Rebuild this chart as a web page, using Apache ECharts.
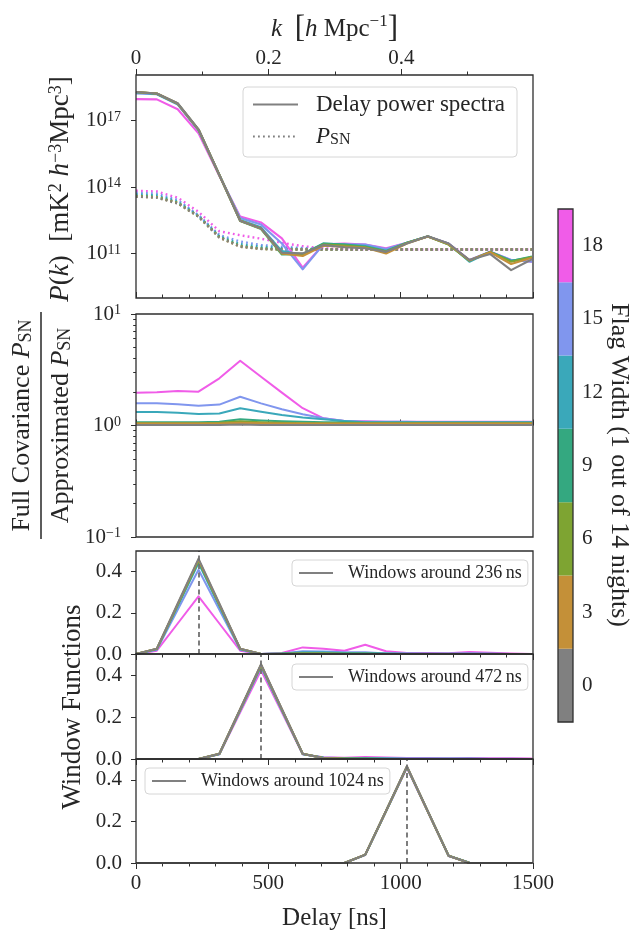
<!DOCTYPE html>
<html><head><meta charset="utf-8">
<script src="https://cdn.jsdelivr.net/npm/echarts@6/dist/echarts.min.js"></script>
<style>html,body{margin:0;padding:0;background:#fff}#c{width:632px;height:936px}</style>
</head><body><div id="c"></div>
<script>
// ---------- data ----------
const delays = [0, 78.7, 157.5, 236.2, 315.0, 393.7, 472.4, 551.2, 629.9, 708.7, 787.4, 866.1, 944.9, 1023.6, 1102.4, 1181.1, 1259.8, 1338.6, 1417.3, 1496.1];
const flagWidths = [0, 3, 6, 9, 12, 15, 18];
const flagColors = ['#808080', '#c49038', '#7ea432', '#34a880', '#3aa8ba', '#8096ee', '#f05ce8'];
const xTickValues = [0, 500, 1000, 1500];
const kTickLabels = [0, 0.2, 0.4];
const kMinorTicks = [0.1, 0.3, 0.5];
const kMax = 0.5985;
const pkTickExponents = [11, 14, 17];
const windowTickValues = [0, 0.2, 0.4];
const windowCenters = [236, 472, 1024];

// delay power spectra  [mK^2 h^-3 Mpc^3]
const pkFlag0  = [2.0e18, 1.7e18, 6.2e17, 4.1e16, 3.5e14, 3.0e12, 1.35e12, 1.07e11, 1.0e11, 2.4e11, 1.9e11, 1.7e11, 1.17e11, 2.8e11, 6.0e11, 2.8e11, 5.0e10, 9.3e10, 1.74e10, 5.4e10];
const pkFlag3  = [2.0e18, 1.7e18, 6.0e17, 4.0e16, 3.5e14, 3.0e12, 1.32e12, 1.0e11, 7.6e10, 2.24e11, 2.0e11, 1.78e11, 9.8e10, 2.8e11, 5.75e11, 2.63e11, 4.8e10, 1.12e11, 3.3e10, 6.3e10];
const pkFlag6  = [2.0e18, 1.7e18, 6.0e17, 4.0e16, 3.5e14, 3.0e12, 1.32e12, 9.5e10, 8.9e10, 2.5e11, 2.24e11, 1.9e11, 1.2e11, 2.95e11, 5.75e11, 2.5e11, 4.8e10, 1.15e11, 4.2e10, 6.8e10];
const pkFlag9  = [2.0e18, 1.66e18, 5.9e17, 4.0e16, 3.5e14, 2.9e12, 1.26e12, 8.9e10, 9.5e10, 2.8e11, 2.5e11, 2.0e11, 1.26e11, 3.0e11, 5.9e11, 2.5e11, 4.6e10, 1.17e11, 4.5e10, 7.2e10];
const pkFlag12 = [1.9e18, 1.62e18, 5.75e17, 3.8e16, 3.5e14, 3.2e12, 1.5e12, 1.26e11, 8.9e10, 2.8e11, 2.5e11, 2.14e11, 1.32e11, 3.0e11, 5.75e11, 2.7e11, 4.2e10, 1.17e11, 4.6e10, 6.6e10];
const pkFlag15 = [1.74e18, 1.58e18, 5.4e17, 3.55e16, 3.5e14, 4.0e12, 2.0e12, 2.8e11, 1.9e10, 2.6e11, 2.6e11, 2.5e11, 1.58e11, 3.0e11, 5.75e11, 2.8e11, 5.0e10, 1.17e11, 5.0e10, 4.2e10];
const pkFlag18 = [9.5e17, 9.3e17, 3.3e17, 2.7e16, 3.16e14, 4.6e12, 2.5e12, 4.8e11, 2.24e10, 2.6e11, 2.8e11, 2.5e11, 1.7e11, 3.0e11, 5.75e11, 2.8e11, 5.0e10, 1.17e11, 5.0e10, 4.2e10];

// P_SN
const psnFlag0  = [3.7e13, 3.3e13, 1.8e13, 4.6e12, 5.2e11, 2.0e11, 1.58e11, 1.5e11, 1.5e11, 1.5e11, 1.5e11, 1.5e11, 1.5e11, 1.5e11, 1.5e11, 1.5e11, 1.5e11, 1.5e11, 1.5e11, 1.5e11];
const psnFlag3  = [3.7e13, 3.4e13, 1.86e13, 4.6e12, 5.2e11, 2.0e11, 1.6e11, 1.5e11, 1.5e11, 1.5e11, 1.5e11, 1.5e11, 1.5e11, 1.5e11, 1.5e11, 1.5e11, 1.5e11, 1.5e11, 1.5e11, 1.5e11];
const psnFlag6  = [3.8e13, 3.5e13, 1.9e13, 4.7e12, 5.4e11, 2.1e11, 1.6e11, 1.5e11, 1.5e11, 1.5e11, 1.5e11, 1.5e11, 1.5e11, 1.5e11, 1.5e11, 1.5e11, 1.5e11, 1.5e11, 1.5e11, 1.5e11];
const psnFlag9  = [4.0e13, 3.6e13, 2.0e13, 4.8e12, 5.6e11, 2.2e11, 1.7e11, 1.55e11, 1.5e11, 1.5e11, 1.5e11, 1.5e11, 1.5e11, 1.5e11, 1.5e11, 1.5e11, 1.5e11, 1.5e11, 1.5e11, 1.5e11];
const psnFlag12 = [4.6e13, 4.2e13, 2.2e13, 5.0e12, 6.0e11, 2.6e11, 2.0e11, 1.7e11, 1.6e11, 1.5e11, 1.5e11, 1.5e11, 1.5e11, 1.5e11, 1.5e11, 1.5e11, 1.5e11, 1.5e11, 1.5e11, 1.5e11];
const psnFlag15 = [5.5e13, 5.0e13, 2.6e13, 5.4e12, 6.8e11, 3.4e11, 2.4e11, 2.0e11, 1.74e11, 1.6e11, 1.5e11, 1.5e11, 1.5e11, 1.5e11, 1.5e11, 1.5e11, 1.5e11, 1.5e11, 1.5e11, 1.5e11];
const psnFlag18 = [6.8e13, 6.3e13, 3.3e13, 7.6e12, 1.0e12, 6.6e11, 4.6e11, 3.0e11, 2.1e11, 1.7e11, 1.55e11, 1.5e11, 1.5e11, 1.5e11, 1.5e11, 1.5e11, 1.5e11, 1.5e11, 1.5e11, 1.5e11];

// Full covariance P_SN / approximated P_SN
const ratioFlag0  = [1.01, 1.01, 1.01, 1.01, 1.01, 1.02, 1.01, 1.01, 1.01, 1.01, 1.01, 1.01, 1.01, 1.01, 1.01, 1.01, 1.01, 1.01, 1.01, 1.01];
const ratioFlag3  = [1.04, 1.04, 1.04, 1.04, 1.04, 1.06, 1.05, 1.04, 1.04, 1.04, 1.04, 1.04, 1.04, 1.04, 1.04, 1.04, 1.04, 1.04, 1.04, 1.04];
const ratioFlag6  = [1.05, 1.05, 1.05, 1.05, 1.06, 1.09, 1.07, 1.06, 1.05, 1.05, 1.05, 1.05, 1.05, 1.05, 1.05, 1.05, 1.05, 1.05, 1.05, 1.05];
const ratioFlag9  = [1.07, 1.07, 1.07, 1.07, 1.08, 1.14, 1.11, 1.09, 1.08, 1.07, 1.07, 1.06, 1.06, 1.06, 1.06, 1.06, 1.06, 1.06, 1.06, 1.06];
const ratioFlag12 = [1.32, 1.32, 1.30, 1.27, 1.28, 1.43, 1.33, 1.24, 1.18, 1.14, 1.10, 1.07, 1.07, 1.07, 1.07, 1.07, 1.07, 1.07, 1.07, 1.07];
const ratioFlag15 = [1.58, 1.58, 1.55, 1.50, 1.54, 1.81, 1.58, 1.40, 1.26, 1.16, 1.10, 1.08, 1.08, 1.08, 1.07, 1.07, 1.07, 1.07, 1.07, 1.07];
const ratioFlag18 = [1.97, 1.99, 2.04, 2.01, 2.65, 3.81, 2.74, 1.97, 1.43, 1.16, 1.10, 1.09, 1.08, 1.08, 1.08, 1.08, 1.08, 1.08, 1.08, 1.08];

// Window functions around 236 ns
const win236Flag0  = [0, 0.026, 0.245, 0.463, 0.245, 0.026, 0, 0, 0, 0, 0, 0, 0, 0, 0, 0, 0, 0, 0, 0];
const win236Flag3  = [0, 0.026, 0.242, 0.458, 0.242, 0.026, 0, 0, 0.001, 0.001, 0, 0, 0, 0, 0, 0, 0, 0, 0, 0];
const win236Flag6  = [0, 0.025, 0.240, 0.455, 0.240, 0.025, 0, 0.001, 0.002, 0.002, 0.001, 0.001, 0, 0, 0, 0, 0, 0, 0, 0];
const win236Flag9  = [0, 0.025, 0.237, 0.450, 0.237, 0.025, 0, 0.001, 0.004, 0.004, 0.002, 0.002, 0.001, 0, 0, 0, 0, 0, 0, 0];
const win236Flag12 = [0, 0.023, 0.232, 0.442, 0.232, 0.023, 0, 0.002, 0.008, 0.008, 0.005, 0.004, 0.002, 0.001, 0.001, 0.001, 0.001, 0.001, 0, 0];
const win236Flag15 = [0, 0.021, 0.215, 0.409, 0.215, 0.021, 0, 0.003, 0.013, 0.012, 0.008, 0.009, 0.003, 0.002, 0.001, 0.001, 0.002, 0.001, 0, 0];
const win236Flag18 = [0, 0.016, 0.148, 0.280, 0.148, 0.016, 0, 0.005, 0.032, 0.026, 0.016, 0.045, 0.013, 0.005, 0.005, 0.004, 0.010, 0.006, 0.002, 0];

// Window functions around 472 ns
const win472Flag0  = [0, 0, 0, 0, 0.025, 0.238, 0.451, 0.238, 0.025, 0.004, 0, 0, 0, 0, 0, 0, 0, 0, 0, 0];
const win472Flag3  = [0, 0, 0, 0, 0.025, 0.237, 0.449, 0.237, 0.025, 0.004, 0.001, 0, 0, 0, 0, 0, 0, 0, 0, 0];
const win472Flag6  = [0, 0, 0, 0, 0.025, 0.236, 0.448, 0.236, 0.025, 0.005, 0.001, 0.001, 0, 0, 0, 0, 0, 0, 0, 0];
const win472Flag9  = [0, 0, 0, 0, 0.024, 0.235, 0.446, 0.235, 0.024, 0.005, 0.002, 0.002, 0.001, 0, 0, 0, 0, 0, 0, 0];
const win472Flag12 = [0, 0, 0, 0, 0.024, 0.233, 0.443, 0.233, 0.024, 0.006, 0.003, 0.003, 0.002, 0.001, 0.001, 0.001, 0.001, 0, 0, 0];
const win472Flag15 = [0, 0, 0, 0, 0.023, 0.230, 0.438, 0.230, 0.023, 0.007, 0.004, 0.005, 0.003, 0.002, 0.002, 0.002, 0.002, 0.001, 0.001, 0];
const win472Flag18 = [0, 0, 0, 0, 0.022, 0.222, 0.422, 0.222, 0.022, 0.008, 0.006, 0.010, 0.007, 0.005, 0.005, 0.004, 0.005, 0.004, 0.003, 0.002];

// Window functions around 1024 ns
const win1024Flag0  = [0, 0, 0, 0, 0, 0, 0, 0, 0, 0, 0, 0.040, 0.252, 0.465, 0.250, 0.035, 0, 0, 0, 0];
const win1024Flag3  = [0, 0, 0, 0, 0, 0, 0, 0, 0, 0, 0, 0.040, 0.251, 0.464, 0.249, 0.035, 0, 0, 0, 0];
const win1024Flag6  = [0, 0, 0, 0, 0, 0, 0, 0, 0, 0, 0, 0.040, 0.251, 0.463, 0.249, 0.035, 0, 0, 0, 0];
const win1024Flag9  = [0, 0, 0, 0, 0, 0, 0, 0, 0, 0, 0, 0.039, 0.250, 0.462, 0.248, 0.035, 0.001, 0, 0, 0];
const win1024Flag12 = [0, 0, 0, 0, 0, 0, 0, 0, 0, 0, 0, 0.039, 0.250, 0.461, 0.248, 0.035, 0.001, 0, 0, 0];
const win1024Flag15 = [0, 0, 0, 0, 0, 0, 0, 0, 0, 0, 0, 0.039, 0.249, 0.460, 0.247, 0.034, 0.001, 0, 0, 0];
const win1024Flag18 = [0, 0, 0, 0, 0, 0, 0, 0, 0, 0, 0, 0.038, 0.248, 0.458, 0.246, 0.034, 0.001, 0, 0, 0];

const pkByFlag = [pkFlag0, pkFlag3, pkFlag6, pkFlag9, pkFlag12, pkFlag15, pkFlag18];
const psnByFlag = [psnFlag0, psnFlag3, psnFlag6, psnFlag9, psnFlag12, psnFlag15, psnFlag18];
const ratioByFlag = [ratioFlag0, ratioFlag3, ratioFlag6, ratioFlag9, ratioFlag12, ratioFlag15, ratioFlag18];
const windowsByCenter = [
  [win236Flag0, win236Flag3, win236Flag6, win236Flag9, win236Flag12, win236Flag15, win236Flag18],
  [win472Flag0, win472Flag3, win472Flag6, win472Flag9, win472Flag12, win472Flag15, win472Flag18],
  [win1024Flag0, win1024Flag3, win1024Flag6, win1024Flag9, win1024Flag12, win1024Flag15, win1024Flag18]
];

// ---------- style ----------
const FONT = '"Liberation Serif", "Times New Roman", serif';
const TXT = '#262626';
const FRAME = '#2e2e2e';
const L = 136, W = 397;
const grids = [
  {left: L, top: 75, width: W, height: 223},
  {left: L, top: 314, width: W, height: 223},
  {left: L, top: 551, width: W, height: 103},
  {left: L, top: 654, width: W, height: 105},
  {left: L, top: 759, width: W, height: 104},
  {left: 558, top: 209, width: 15, height: 513}
].map(g => Object.assign({show: true, borderColor: FRAME, borderWidth: 1.3, backgroundColor: 'transparent', z: 20}, g));

const powRich = {
  b: {fontFamily: FONT, fontSize: 21, color: TXT},
  e: {fontFamily: FONT, fontSize: 14, color: TXT, verticalAlign: 'top', lineHeight: 14}
};
const powFmt = v => '{b|10}{e|' + String(Math.round(v)).replace('-', '\u2212') + '}';

function delayAxis(gi, inside, labels) {
  return {
    type: 'value', gridIndex: gi, position: 'bottom', min: 0, max: 1500, interval: 500,
    axisLine: {show: false}, splitLine: {show: false},
    axisTick: {show: true, inside: inside, length: 6, lineStyle: {color: FRAME, width: 1}},
    minorTick: {show: true, splitNumber: 5, length: 3.5, lineStyle: {color: FRAME, width: 1}},
    axisLabel: {show: labels, customValues: xTickValues, margin: 10, fontFamily: FONT, fontSize: 21, color: TXT,
      formatter: v => String(v), showMinLabel: true, showMaxLabel: true}
  };
}
const xAxes = [
  delayAxis(0, true, false),
  {type: 'value', gridIndex: 0, position: 'top', min: 0, max: kMax,
    axisLine: {show: false}, splitLine: {show: false},
    axisTick: {show: true, customValues: kTickLabels, length: 6, lineStyle: {color: FRAME}},
    axisLabel: {show: true, customValues: kTickLabels, margin: 6, fontFamily: FONT, fontSize: 21, color: TXT,
      formatter: v => v === 0 ? '0' : v.toFixed(1)}},
  {type: 'value', gridIndex: 0, position: 'top', min: 0, max: kMax,
    axisLine: {show: false}, splitLine: {show: false}, axisLabel: {show: false},
    axisTick: {show: true, customValues: kMinorTicks, length: 3.5, lineStyle: {color: FRAME}}},
  delayAxis(1, true, false),
  delayAxis(2, false, false),
  delayAxis(3, false, false),
  delayAxis(4, false, true),
  {type: 'value', gridIndex: 5, min: 0, max: 1, show: false}
];

const minorLog = [];
[-1, 0].forEach(e => { for (let m = 2; m <= 9; m++) minorLog.push(e + Math.log10(m)); });

function winYAxis(gi) {
  return {type: 'value', gridIndex: gi, position: 'left', min: 0, max: 0.5,
    axisLine: {show: false}, splitLine: {show: false},
    axisTick: {show: true, customValues: windowTickValues, length: 5, lineStyle: {color: FRAME}},
    axisLabel: {customValues: windowTickValues, margin: 14, fontFamily: FONT, fontSize: 21, color: TXT,
      formatter: v => v.toFixed(1), showMinLabel: true}};
}
const yAxes = [
  {type: 'value', gridIndex: 0, position: 'left', min: 8.98, max: 19.07,
    axisLine: {show: false}, splitLine: {show: false},
    axisTick: {show: true, customValues: pkTickExponents, length: 5, lineStyle: {color: FRAME}},
    axisLabel: {customValues: pkTickExponents, margin: 15, formatter: powFmt, rich: powRich}},
  {type: 'value', gridIndex: 1, position: 'left', min: -1, max: 1, interval: 1,
    axisLine: {show: false}, splitLine: {show: false},
    axisTick: {show: true, length: 5, lineStyle: {color: FRAME}},
    axisLabel: {margin: 15, formatter: powFmt, rich: powRich, showMinLabel: true, showMaxLabel: true}},
  {type: 'value', gridIndex: 1, position: 'left', offset: 0, min: -1, max: 1,
    axisLine: {show: false}, splitLine: {show: false}, axisLabel: {show: false},
    axisTick: {show: true, customValues: minorLog, length: 2.8, lineStyle: {color: FRAME}}},
  winYAxis(2), winYAxis(3), winYAxis(4),
  {type: 'value', gridIndex: 5, position: 'right', min: -1.5, max: 19.5,
    axisLine: {show: false}, splitLine: {show: false}, axisTick: {show: false},
    axisLabel: {customValues: flagWidths, margin: 9, fontFamily: FONT, fontSize: 21, color: TXT}}
];

// ---------- series ----------
const series = [];
const drawOrder = [6, 5, 4, 3, 2, 1, 0];
const toPts = (arr, f) => delays.map((d, j) => [d, f ? f(arr[j]) : arr[j]]);

drawOrder.forEach(i => {
  series.push({type: 'line', name: i === 0 ? 'P_SN' : 'psn' + flagWidths[i], xAxisIndex: 0, yAxisIndex: 0,
    symbol: 'none', z: 2, data: toPts(psnByFlag[i], Math.log10),
    itemStyle: {color: flagColors[i]},
    lineStyle: {color: flagColors[i], width: 2.4, type: [1.8, 3.2], cap: 'butt'}});
});
drawOrder.forEach(i => {
  series.push({type: 'line', name: i === 0 ? 'Delay power spectra' : 'pk' + flagWidths[i], xAxisIndex: 0, yAxisIndex: 0,
    symbol: 'none', z: 3, data: toPts(pkByFlag[i], Math.log10),
    itemStyle: {color: flagColors[i]},
    lineStyle: {color: flagColors[i], width: 2.1, join: 'round'}});
});
drawOrder.forEach(i => {
  series.push({type: 'line', name: 'ratio' + flagWidths[i], xAxisIndex: 3, yAxisIndex: 1,
    symbol: 'none', z: 3, data: toPts(ratioByFlag[i], Math.log10),
    lineStyle: {color: flagColors[i], width: 2, join: 'round'}});
});
const windowNames = windowCenters.map(c => 'Windows around ' + c + '\u2009ns');
windowCenters.forEach((c, p) => {
  drawOrder.forEach(i => {
    const s = {type: 'line', name: i === 0 ? windowNames[p] : 'win' + c + '_' + flagWidths[i],
      xAxisIndex: 4 + p, yAxisIndex: 3 + p, symbol: 'none', z: 3,
      data: toPts(windowsByCenter[p][i]),
      itemStyle: {color: flagColors[i]},
      lineStyle: {color: flagColors[i], width: 2, join: 'round'}};
    if (i === 0) {
      s.markLine = {silent: true, symbol: 'none', label: {show: false}, animation: false,
        lineStyle: {color: '#707070', type: [5, 3.5], width: 1.8}, data: [{xAxis: c}]};
    }
    series.push(s);
  });
});
// colorbar
series.push({type: 'line', name: 'colorbar', xAxisIndex: 7, yAxisIndex: 6, data: [], symbol: 'none',
  markArea: {silent: true, animation: false,
    data: flagWidths.map((w, i) => [{xAxis: 0, yAxis: w - 1.5, itemStyle: {color: flagColors[i], opacity: 1}}, {xAxis: 1, yAxis: w + 1.5}])}});

// ---------- legends ----------
const legRich = sz => ({
  g: {width: sz === 23 ? 13 : 10},
  n: {fontFamily: FONT, fontSize: sz, color: TXT},
  it: {fontFamily: FONT, fontSize: sz, fontStyle: 'italic', color: TXT},
  sub: {fontFamily: FONT, fontSize: Math.round(sz * 0.68), color: TXT, verticalAlign: 'bottom', lineHeight: 15}
});
const legBase = {orient: 'vertical', selectedMode: false, backgroundColor: 'rgba(255,255,255,0.85)',
  borderColor: '#d6d6d6', borderWidth: 1, borderRadius: 4, z: 30,
  itemStyle: {color: 'rgba(0,0,0,0)', borderColor: 'rgba(0,0,0,0)', borderWidth: 0, opacity: 0}};
const legends = [
  Object.assign({}, legBase, {data: ['Delay power spectra', 'P_SN'], left: 243, top: 87,
    itemWidth: 45, itemHeight: 14, itemGap: 9, padding: [6, 12, 9, 9],
    textStyle: {fontFamily: FONT, fontSize: 23, color: TXT, rich: legRich(23)},
    formatter: n => n === 'P_SN' ? '{g| }{it|P}{sub|SN}' : '{g| }{n|' + n + '}'}),
  Object.assign({}, legBase, {data: [windowNames[0]], left: 292, top: 560,
    itemWidth: 34, itemHeight: 12, padding: [4, 6, 4, 6],
    textStyle: {fontFamily: FONT, fontSize: 18, color: TXT, rich: legRich(18)},
    formatter: n => '{g| }{n|' + n + '}'}),
  Object.assign({}, legBase, {data: [windowNames[1]], left: 292, top: 664,
    itemWidth: 34, itemHeight: 12, padding: [4, 6, 4, 6],
    textStyle: {fontFamily: FONT, fontSize: 18, color: TXT, rich: legRich(18)},
    formatter: n => '{g| }{n|' + n + '}'}),
  Object.assign({}, legBase, {data: [windowNames[2]], left: 145, top: 768,
    itemWidth: 34, itemHeight: 12, padding: [4, 6, 4, 6],
    textStyle: {fontFamily: FONT, fontSize: 18, color: TXT, rich: legRich(18)},
    formatter: n => '{g| }{n|' + n + '}'})
];

// ---------- axis titles ----------
const mkRich = sz => ({
  it: {fontFamily: FONT, fontSize: sz, fontStyle: 'italic', fill: TXT},
  sup: {fontFamily: FONT, fontSize: Math.round(sz * 0.68), fill: TXT, verticalAlign: 'top', lineHeight: Math.round(sz * 0.68)},
  sub: {fontFamily: FONT, fontSize: Math.round(sz * 0.68), fill: TXT, verticalAlign: 'bottom', lineHeight: Math.round(sz * 0.68)},
  br: {fontFamily: FONT, fontSize: Math.round(sz * 1.24), fill: TXT}
});
const tstyle = (text, sz) => ({text: text, rich: mkRich(sz), font: sz + 'px ' + FONT, fill: TXT,
  align: 'center', verticalAlign: 'middle'});
const graphic = [
  {type: 'text', x: 334.5, y: 29, silent: true, style: tstyle('{it|k}  {br|[}{it|h} Mpc{sup|\u22121}{br|]}', 25)},
  {type: 'text', x: 334.5, y: 918, silent: true, style: tstyle('Delay [ns]', 25)},
  {type: 'text', x: 61, y: 189, rotation: Math.PI / 2, silent: true,
    style: tstyle('{it|P}({it|k})  [mK{sup|2} {it|h}{sup|\u22123}Mpc{sup|3}]', 27)},
  {type: 'text', x: 22, y: 425.5, rotation: Math.PI / 2, silent: true,
    style: tstyle('Full Covariance {it|P}{sub|SN}', 26)},
  {type: 'line', silent: true, shape: {x1: 41, y1: 312, x2: 41, y2: 539}, style: {stroke: TXT, lineWidth: 1.5}},
  {type: 'text', x: 61, y: 425.5, rotation: Math.PI / 2, silent: true,
    style: tstyle('Approximated {it|P}{sub|SN}', 26)},
  {type: 'text', x: 73, y: 707, rotation: Math.PI / 2, silent: true, style: tstyle('Window Functions', 27)},
  {type: 'text', x: 619, y: 465, rotation: -Math.PI / 2, silent: true, style: tstyle('Flag Width (1 out of 14 nights)', 26)}
];

const chart = echarts.init(document.getElementById('c'), null, {renderer: 'canvas'});
chart.setOption({
  animation: false,
  backgroundColor: '#ffffff',
  textStyle: {fontFamily: FONT},
  grid: grids, xAxis: xAxes, yAxis: yAxes, series: series, legend: legends, graphic: graphic
});
</script></body></html>
